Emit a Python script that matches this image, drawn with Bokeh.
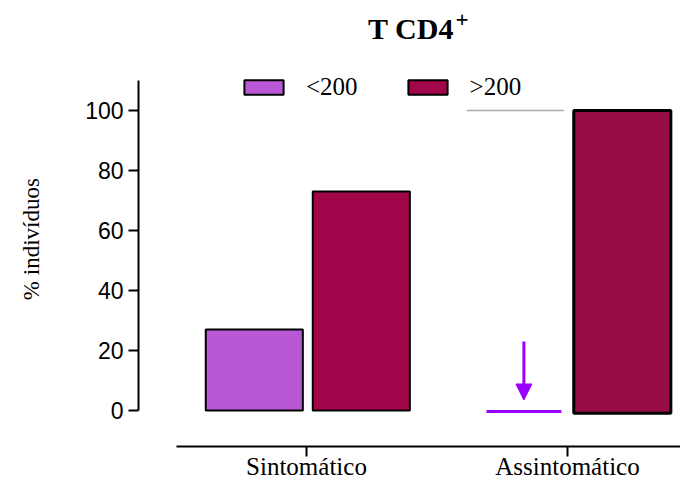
from bokeh.plotting import figure
from bokeh.models import (Range1d, LinearAxis, FixedTicker, Label, Arrow, NormalHead,
                          Legend, LegendItem, ColumnDataSource)
from bokeh.embed import file_html
from bokeh.resources import INLINE

# ---- data ----
categories = ["Sintomático", "Assintomático"]
cat_pos = [1, 2]
lt200 = [27, 0]
gt200 = [73, 100]
gt200_base = [0, -0.9]
yticks = [0, 20, 40, 60, 80, 100]
series_labels = ["<200", ">200"]
title_main = "T CD4"
title_sup = "+"
y_label = "% indivíduos"

# ---- style / layout ----
LT_COLOR = "#B957D6"
GT_COLORS = ["#A1064A", "#990D46"]
ZERO_COLOR = "#9900FF"
LT_OFF, GT_OFF, BAR_W = -0.2, 0.21, 0.372
ZERO_OFF, ZERO_W = -0.167, 0.287
SERIF = "Liberation Serif"
SANS = "Liberation Sans"
NBSP = "\u00a0"

p = figure(width=680, height=483,
           x_range=Range1d(0.3563, 2.4330), y_range=Range1d(-12, 132),
           output_backend="svg", toolbar_location=None,
           x_axis_type=None, y_axis_type=None,
           min_border_left=138, min_border_right=0, min_border_top=14, min_border_bottom=37)
p.outline_line_color = None
p.xgrid.visible = False
p.ygrid.visible = False

# bars <200 (non-zero)
lt_src = ColumnDataSource(dict(
    x=[c + LT_OFF for c, v in zip(cat_pos, lt200) if v > 0],
    top=[v for v in lt200 if v > 0]))
r_lt = p.vbar(x="x", top="top", bottom=0, width=BAR_W, source=lt_src,
              fill_color=LT_COLOR, line_color="black", line_width=2)

gt_src = ColumnDataSource(dict(
    x=[c + GT_OFF for c in cat_pos], top=gt200, bottom=gt200_base,
    color=GT_COLORS, lw=[2, 3]))
r_gt = p.vbar(x="x", top="top", bottom="bottom", width=BAR_W, source=gt_src,
              fill_color="color", line_color="black", line_width="lw")

# zero-valued <200 : purple line + arrow
for c, v in zip(cat_pos, lt200):
    if v == 0:
        p.segment(x0=[c + ZERO_OFF - ZERO_W / 2], x1=[c + ZERO_OFF + ZERO_W / 2],
                  y0=[v - 0.3], y1=[v - 0.3], line_color=ZERO_COLOR, line_width=3)
        p.add_layout(Arrow(end=NormalHead(size=16, fill_color=ZERO_COLOR, line_color=ZERO_COLOR),
                           x_start=c + ZERO_OFF, y_start=v + 23, x_end=c + ZERO_OFF, y_end=v + 3.5,
                           line_color=ZERO_COLOR, line_width=3))
        # grey reference line at the >200 level in the empty slot
        gi = cat_pos.index(c)
        p.segment(x0=[c + LT_OFF - BAR_W / 2], x1=[c + LT_OFF + BAR_W / 2],
                  y0=[gt200[gi]], y1=[gt200[gi]], line_color="#AAAAAA", line_width=1.5)

# axes
yax = LinearAxis(ticker=FixedTicker(ticks=yticks), bounds=(0, 110))
yax.axis_line_width = 2
yax.major_tick_line_width = 2
yax.major_tick_out = 10
yax.major_tick_in = 0
yax.minor_tick_line_color = None
yax.major_label_text_font = SANS
yax.major_label_text_font_size = "23px"
yax.major_label_text_color = "black"
yax.major_label_standoff = 5
yax.axis_label = y_label + NBSP * 3
yax.axis_label_text_font = SERIF
yax.axis_label_text_font_size = "23px"
yax.axis_label_text_font_style = "normal"
yax.axis_label_text_color = "black"
yax.axis_label_standoff = 38
p.add_layout(yax, "left")

xax = LinearAxis(ticker=FixedTicker(ticks=cat_pos), bounds=(0.502, 2.433))
xax.major_label_overrides = {c: n for c, n in zip(cat_pos, categories)}
xax.axis_line_width = 2
xax.major_tick_line_width = 2
xax.major_tick_out = 10
xax.major_tick_in = 0
xax.minor_tick_line_color = None
xax.major_label_text_font = SERIF
xax.major_label_text_font_size = "25px"
xax.major_label_text_color = "black"
xax.major_label_standoff = -4
p.add_layout(xax, "below")

# title
p.add_layout(Label(x=1.4004, y=127.3, text=title_main, text_font=SERIF, text_font_style="bold",
                   text_font_size="30px", text_align="center", text_baseline="middle",
                   text_color="black"))
p.add_layout(Label(x=1.571, y=130.5, text=title_sup, text_font=SERIF, text_font_style="bold",
                   text_font_size="23px", text_align="left", text_baseline="middle",
                   text_color="black"))

legend = Legend(items=[LegendItem(label=series_labels[0], renderers=[r_lt]),
                       LegendItem(label=series_labels[1], renderers=[r_gt])],
                orientation="horizontal", location=(101, 345),
                glyph_width=49, glyph_height=18, label_standoff=18, spacing=45,
                padding=0, margin=0, border_line_color=None, background_fill_alpha=0,
                label_text_font=SERIF, label_text_font_size="25px", label_text_color="black")
p.add_layout(legend)

open("out.html", "w").write(file_html(p, INLINE))
